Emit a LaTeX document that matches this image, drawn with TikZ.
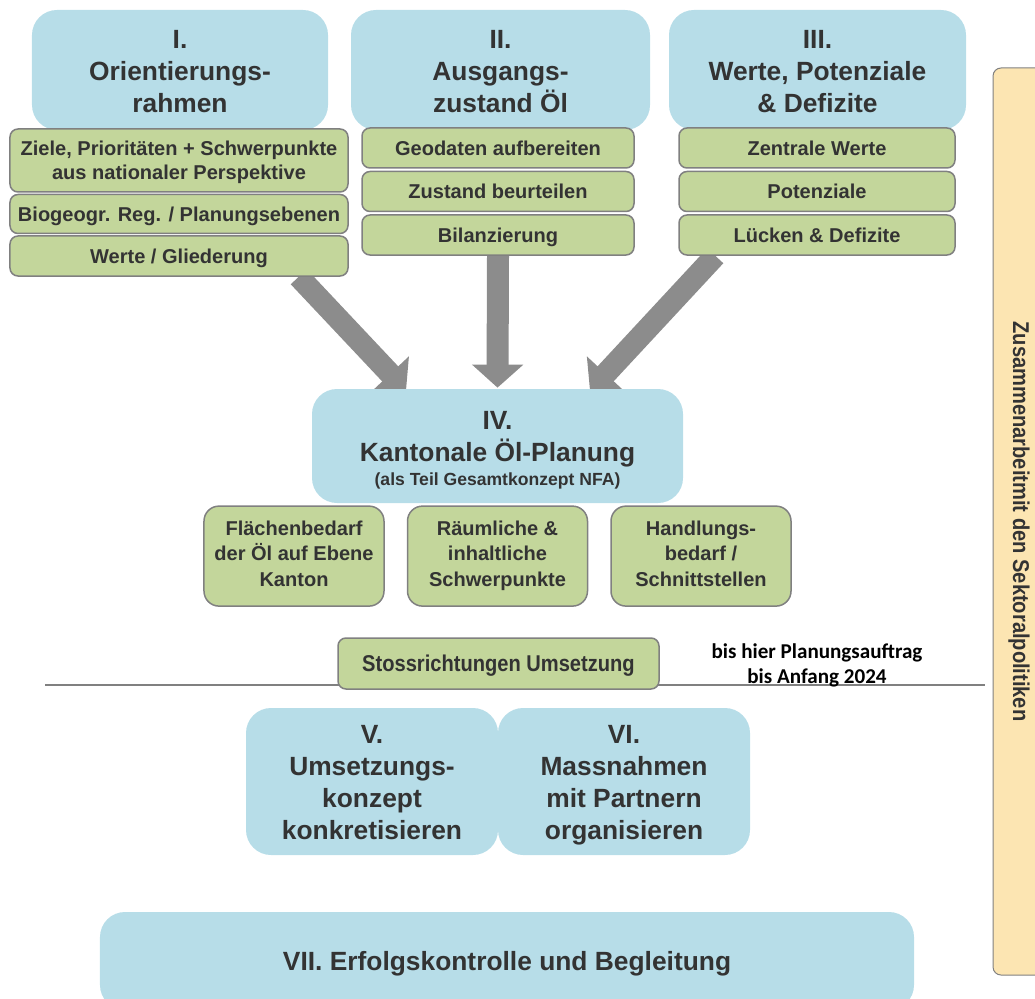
\documentclass[tikz,border=0pt]{standalone}
\usepackage{fontspec}
\setmainfont{Liberation Sans}
\newfontfamily\narrowfont[FakeStretch=0.88]{Liberation Sans}
\newfontfamily\notefont{Carlito}
\usepackage{tikz}
\usetikzlibrary{arrows.meta,backgrounds,positioning}
\newcommand{\evenstrut}{\rule[-0.25em]{0pt}{1.22em}}
\definecolor{my_blue}{RGB}{183, 221, 232}
\definecolor{my_green}{RGB}{195, 214, 155}
\definecolor{my_yellow}{RGB}{252, 229, 178}
\definecolor{my_border}{RGB}{128, 128, 128}
\definecolor{my_arrow}{RGB}{140, 140, 140}
\definecolor{my_text}{RGB}{51, 51, 51}
\tikzset{
  even_text/.style = {execute at begin node=\evenstrut, execute at end node=\evenstrut},
  stage_box/.style = {align=center, inner sep=2pt, rounded corners=5mm, fill=my_blue, text=my_text, even_text,
  font=\bfseries\fontsize{15}{18.3}\selectfont},
  task_box/.style = {align=center, inner sep=1pt, rounded corners=1.6mm, draw=my_border, line width=0.3mm,
  fill=my_green, text=my_text, even_text, font=\bfseries\fontsize{11.4}{13.7}\selectfont},
  focus_box/.style = {task_box, rounded corners=3mm, minimum width=36mm, minimum height=20mm,
  font=\bfseries\fontsize{11.4}{14.4}\selectfont}
}

\begin{document}
\begin{tikzpicture}[x=0.2mm,y=-0.2mm,
        big_arrow/.style={draw=my_arrow, line width=4.4mm, -{Triangle[width=10mm,length=4.6mm]}},
        side_box/.style={fill=my_yellow, draw=my_border, line width=0.2mm, rounded corners=1.6mm, text=my_text,
          font=\narrowfont\bfseries\fontsize{13}{15}\selectfont},
        head_box/.style={stage_box, minimum height=24mm},
        stack_ii/.style={task_box, minimum width=54.4mm, minimum height=8mm},
        stack_iii/.style={task_box, minimum width=55.2mm, minimum height=8mm},
        step_pair/.style={stage_box, minimum width=50.4mm, minimum height=29.4mm, font=\bfseries\fontsize{15}{18.2}\selectfont}]
    \useasboundingbox (0,0) rectangle (1035,999);

    \node [head_box, minimum width=59.2mm] (orient) at (180,70) {\rule{0pt}{5.6mm}I.\\Orientierungs-\\rahmen};
    \node [head_box, minimum width=59.8mm] (ausgang) at (500.5,70) {\rule{0pt}{5.6mm}II.\\Ausgangs-\\zustand Öl};
    \node [head_box, minimum width=59.4mm] (werte) at (817.5,70) {\rule{0pt}{5.6mm}III.\\Werte, Potenziale\\\& Defizite};

    \node [task_box, minimum width=67.6mm, minimum height=12.6mm] (ziele) at (179,160.5)
        {\rule{0pt}{3.7mm}Ziele, Prioritäten + Schwerpunkte\\aus nationaler Perspektive};
    \node [task_box, minimum width=67.6mm, minimum height=7.8mm, below=0.2mm of ziele] (biogeo) {Biogeogr. Reg. / Planungsebenen};
    \node [task_box, minimum width=67.6mm, minimum height=8mm, below=0.2mm of biogeo] (glied) {Werte / Gliederung};

    \node [stack_ii] (geo) at (498,148) {Geodaten aufbereiten};
    \node [stack_ii, below=0.4mm of geo] (zustand) {Zustand beurteilen};
    \node [stack_ii, below=0.4mm of zustand] (bilanz) {Bilanzierung};

    \node [stack_iii] (zentral) at (817,148) {Zentrale Werte};
    \node [stack_iii, below=0.4mm of zentral] (potenz) {Potenziale};
    \node [stack_iii, below=0.4mm of potenz] (luecken) {Lücken \& Defizite};

    \node [stage_box, minimum width=74.2mm, minimum height=22.8mm] (kanton) at (497.5,446)
        {\rule{0pt}{5.9mm}IV.\\Kantonale Öl-Planung\\[-1.6mm]{\fontsize{10}{12}\selectfont (als Teil Gesamtkonzept NFA)}};

    \begin{scope}[on background layer]
        \draw [big_arrow] ([xshift=-10mm]glied.south east) -- ([xshift=-18.3mm,yshift=-0.4mm]kanton.north);
        \draw [big_arrow] (bilanz.south) -- ([yshift=0.2mm]kanton.north);
        \draw [big_arrow] ([xshift=7.4mm]luecken.south west) -- ([xshift=18.5mm,yshift=-0.4mm]kanton.north);
    \end{scope}

    \node [focus_box, below=0.4mm of kanton] (raeum) {Räumliche \&\\inhaltliche\\Schwerpunkte};
    \node [focus_box, left=4.4mm of raeum] (flaeche) {Flächenbedarf\\der Öl auf Ebene\\Kanton};
    \node [focus_box, right=4.4mm of raeum] (handlung) {Handlungs-\\bedarf /\\Schnittstellen};

    \node [task_box, minimum width=64.2mm, minimum height=10.2mm, font=\narrowfont\bfseries\fontsize{13}{15}\selectfont]
        (stoss) at (498.5,663.5) {Stossrichtungen Umsetzung};
    \begin{scope}[on background layer]
        \draw [my_border, line width=0.25mm] (45,685) -- (985,685);
    \end{scope}
    \node [align=center, text=black, font=\notefont\bfseries\fontsize{12}{14.2}\selectfont] (auftrag) at (817,665)
        {bis hier Planungsauftrag\\bis Anfang 2024};

    \node [step_pair] (konzept) at (372,781.5) {\rule{0pt}{5.2mm}V.\\Umsetzungs-\\konzept\\konkretisieren};
    \node [step_pair] (massn) at (624,781.5) {\rule{0pt}{5.2mm}VI.\\Massnahmen\\mit Partnern\\organisieren};

    \node [stage_box, minimum width=162.8mm, minimum height=19.6mm] (erfolg) at (507,961)
        {VII. Erfolgskontrolle und Begleitung};

    \node [side_box, rotate=-90, minimum width=181.4mm, minimum height=10.4mm] (sektor) at (1019,521.5)
        {Zusammenarbeitmit den Sektoralpolitiken};
\end{tikzpicture}
\end{document}
